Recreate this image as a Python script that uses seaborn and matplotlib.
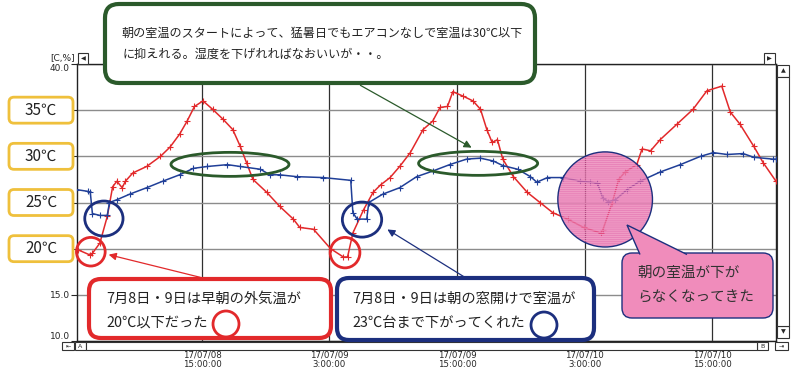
import numpy as np
import pandas as pd
import matplotlib
matplotlib.use('Agg')
import matplotlib.pyplot as plt
import matplotlib.transforms as mtransforms
from matplotlib.patches import FancyBboxPatch, Ellipse, Polygon, FancyArrowPatch, Rectangle
import seaborn as sns

# hours counted from 2017-07-08 00:00
room_hours = [3.2, 4.3, 4.5, 4.7, 5.4, 6.1, 6.3, 7.0, 8.2, 9.8,
              11.3, 12.9, 14.2, 15.5, 17.4, 18.6, 20.5, 21.4, 22.3, 23.9,
              26.4, 29.0, 29.2, 29.6, 30.5, 30.7, 32.0, 33.6, 35.2, 36.7,
              38.3, 39.9, 41.2, 42.4, 43.3, 44.7, 45.9, 46.5, 47.5, 49.0,
              50.6, 51.5, 52.2, 52.7, 53.2, 53.9, 55.0, 56.2, 58.1, 60.0,
              61.9, 63.1, 64.4, 65.9, 66.9, 68.7, 69.0]
room_temp = [26.4, 26.2, 26.1, 23.8, 23.6, 23.6, 25.0, 25.3, 25.9, 26.6,
             27.3, 28.0, 28.7, 28.9, 29.1, 28.9, 28.6, 28.0, 28.0, 27.8,
             27.7, 27.4, 23.9, 23.2, 23.2, 25.0, 25.9, 26.6, 27.8, 28.4,
             29.1, 29.7, 29.8, 29.5, 29.0, 28.6, 27.8, 27.2, 27.7, 27.7,
             27.3, 27.2, 27.1, 25.5, 25.1, 25.3, 26.4, 27.3, 28.3, 29.1,
             30.0, 30.4, 30.2, 30.3, 29.9, 29.7, 29.7]

outdoor_hours = [3.3, 4.5, 4.7, 5.4, 6.1, 6.6, 7.0, 7.5, 7.8, 8.5,
                 9.8, 11.1, 12.0, 12.9, 13.6, 14.3, 15.1, 16.0, 17.0, 17.9,
                 18.6, 19.2, 19.8, 21.1, 22.3, 23.6, 24.2, 25.5, 27.1, 28.3,
                 28.7, 29.2, 30.2, 31.1, 31.8, 32.7, 33.6, 34.6, 35.8, 36.7,
                 37.4, 38.1, 38.6, 39.6, 40.5, 41.2, 41.8, 42.3, 42.8, 43.3,
                 44.3, 45.6, 46.8, 48.0, 49.4, 50.9, 52.5, 52.7, 53.6, 54.2,
                 54.8, 55.9, 56.4, 57.2, 58.1, 59.7, 61.2, 62.5, 63.9, 64.7,
                 65.6, 66.9, 67.8, 69.0]
outdoor_temp = [19.9, 19.3, 19.5, 20.6, 23.5, 26.7, 27.3, 26.6, 27.3, 28.2,
                28.9, 30.0, 31.0, 32.4, 33.8, 35.4, 36.0, 35.1, 34.0, 32.9,
                31.1, 29.3, 27.5, 26.1, 24.6, 23.2, 22.3, 22.1, 20.0, 19.1,
                19.1, 21.7, 24.2, 26.1, 26.9, 27.7, 28.9, 30.4, 32.9, 33.8,
                35.3, 35.4, 37.0, 36.5, 36.0, 35.1, 32.9, 31.5, 31.8, 29.7,
                27.8, 26.1, 25.0, 23.9, 23.2, 22.3, 21.7, 22.0, 25.0, 27.5,
                28.3, 29.1, 30.8, 30.6, 31.8, 33.5, 35.1, 37.1, 37.6, 34.8,
                33.5, 31.1, 29.3, 27.3]

tick_hours = [15, 27, 39, 51, 63]
tick_labels = ['17/07/08\n15:00:00', '17/07/09\n3:00:00', '17/07/09\n15:00:00',
               '17/07/10\n3:00:00', '17/07/10\n15:00:00']
y_ticks = [10, 15, 20, 25, 30, 35, 40]
level_values = [35, 30, 25, 20]
level_labels = ['35℃', '30℃', '25℃', '20℃']

RED = '#e2292b'
BLUE = '#203f98'
NAVY = '#1c2f7e'
GREEN = '#2b5a2b'
GOLD = '#efc03c'
PINK = '#f08cbb'

sns.set_style('white')
plt.rcParams['font.family'] = ['Noto Sans CJK JP', 'DejaVu Sans']
plt.rcParams['hatch.linewidth'] = 0.6

W, H = 800, 372
fig = plt.figure(figsize=(W / 100, H / 100), dpi=100)
ax = fig.add_axes([77 / W, 1 - 341 / H, 699 / W, 277 / H])
# image pixel coordinates, origin at top left
px = mtransforms.Affine2D().scale(1 / 100, -1 / 100).translate(0, H / 100) + fig.dpi_scale_trans

room = pd.DataFrame({'hours': room_hours, 'temp': room_temp})
outdoor = pd.DataFrame({'hours': outdoor_hours, 'temp': outdoor_temp})

sns.lineplot(data=outdoor, x='hours', y='temp', ax=ax, color=RED, lw=1.1,
             marker='+', markersize=4, markeredgewidth=0.8, markeredgecolor=RED, zorder=3)
sns.lineplot(data=room, x='hours', y='temp', ax=ax, color=BLUE, lw=1.1,
             marker='+', markersize=4, markeredgewidth=0.8, markeredgecolor=BLUE, zorder=3)

ax.set_xlim(3.25, 69.0)
ax.set_ylim(10, 40)
ax.set_xlabel('')
ax.set_ylabel('')
ax.set_xticks(tick_hours, tick_labels)
# the 20-35 labels sit under the level boxes
ax.set_yticks(y_ticks, ['%.1f' % v if v in (10, 15, 40) else '' for v in y_ticks])
ax.tick_params(axis='x', length=0, pad=7, labelsize=6.2)
ax.tick_params(axis='y', left=True, length=4, width=0.8, pad=1, labelsize=6.5)
for lab in ax.get_xticklabels() + ax.get_yticklabels():
    lab.set_family('DejaVu Sans')
    lab.set_linespacing(1.0)
ylabs = ax.get_yticklabels()
ylabs[0].set_verticalalignment('bottom')
ylabs[-1].set_verticalalignment('top')
ax.xaxis.grid(True, color='#303030', lw=0.9)
ax.yaxis.grid(True, color='#8c8c8c', lw=1.0)
ax.set_axisbelow(True)
for s in ax.spines.values():
    s.set_color('#222222')
    s.set_linewidth(1.0)

# markings on the curves
for (cx, cy, w, h, col) in [(17.64, 29.13, 11.1, 2.6, GREEN),
                            (40.98, 29.24, 11.2, 2.6, GREEN),
                            (5.78, 23.26, 3.6, 3.8, NAVY),
                            (30.06, 23.15, 3.7, 3.8, NAVY),
                            (4.55, 19.67, 2.7, 3.1, RED),
                            (28.46, 19.57, 2.8, 3.3, RED)]:
    ax.add_patch(Ellipse((cx, cy), w, h, fill=False, ec=col, lw=2.0, zorder=5, clip_on=False))

ax.add_patch(Ellipse((52.93, 25.33), 8.9, 10.3, fc='#e0559f', ec='none', alpha=0.72, zorder=5))
ax.add_patch(Ellipse((52.93, 25.33), 8.9, 10.3, fill=False, ec='#f2a2c8', lw=0.01,
                     hatch='-' * 8, zorder=5))
ax.add_patch(Ellipse((52.93, 25.33), 8.9, 10.3, fill=False, ec=NAVY, lw=1.0, zorder=6))

# temperature level boxes on the left
for v, lab in zip(level_values, level_labels):
    yd = H - ax.transData.transform((10, v))[1]
    fig.add_artist(FancyBboxPatch((9, yd - 13), 64, 26, boxstyle='round,pad=0,rounding_size=5',
                                  transform=px, fc='white', ec=GOLD, lw=2, zorder=10))
    fig.text(41, yd, lab, transform=px, ha='center', va='center', fontsize=11, color='#222222', zorder=11)


def callout(x, y, w, h, ec, lw, fc='white', r=12):
    fig.add_artist(FancyBboxPatch((x, y), w, h, boxstyle='round,pad=0,rounding_size=%d' % r,
                                  transform=px, fc=fc, ec=ec, lw=lw, zorder=10))


def arrow(a, b, col):
    fig.add_artist(FancyArrowPatch(a, b, transform=px, arrowstyle='-|>', mutation_scale=11,
                                   color=col, lw=0.9, zorder=9))


# top comment
callout(105, 4, 430, 79, GREEN, 3, r=14)
fig.text(122, 33, '朝の室温のスタートによって、猛暑日でもエアコンなしで室温は30℃以下',
         transform=px, va='center', fontsize=8.7, color='#222222', zorder=11)
fig.text(122, 54, 'に抑えれる。湿度を下げれればなおいいが・・。',
         transform=px, va='center', fontsize=8.7, color='#222222', zorder=11)
arrow((358, 84), (474, 149), GREEN)

# outdoor comment
callout(89, 279, 242, 59, RED, 3)
fig.text(106, 299, '7月8日・9日は早朝の外気温が', transform=px, va='center',
         fontsize=10.3, color='#222222', zorder=11)
fig.text(106, 323, '20℃以下だった', transform=px, va='center',
         fontsize=10.3, color='#222222', zorder=11)
fig.add_artist(Ellipse((226, 324), 26, 26, transform=px, fill=False, ec=RED, lw=2, zorder=11))
arrow((203, 278), (106, 254), RED)

# room comment
callout(337, 278, 257, 62, NAVY, 3)
fig.text(352, 299, '7月8日・9日は朝の窓開けで室温が', transform=px, va='center',
         fontsize=10.3, color='#222222', zorder=11)
fig.text(352, 323, '23℃台まで下がってくれた', transform=px, va='center',
         fontsize=10.3, color='#222222', zorder=11)
fig.add_artist(Ellipse((544, 325), 26, 26, transform=px, fill=False, ec=NAVY, lw=2, zorder=11))
arrow((466, 278), (385, 228), NAVY)

# pink bubble
callout(622, 253, 151, 65, NAVY, 1.0, fc=PINK, r=10)
fig.add_artist(Polygon([(640, 254.5), (627, 225), (687, 254.5)], closed=False, transform=px,
                       fc=PINK, ec=NAVY, lw=1.0, zorder=10))
fig.text(637, 273, '朝の室温が下が', transform=px, va='center', fontsize=10.5, color='#333333', zorder=11)
fig.text(637, 298, 'らなくなってきた', transform=px, va='center', fontsize=10.5, color='#333333', zorder=11)

# recorder window decorations
fig.text(75, 58, '[C,%]', transform=px, ha='right', va='center', fontsize=6.5, family='DejaVu Sans')
for (bx, by, bw, bh, sym) in [(78, 53, 10, 11, '◀'), (764, 53, 11, 11, '▶'),
                              (777, 65, 12, 12, '▲'), (777, 326, 12, 12, '▼'),
                              (62, 342, 12, 8, '⇤'), (75, 342, 11, 8, 'A'),
                              (757, 342, 11, 8, 'B'), (775, 342, 13, 8, '⇥')]:
    fig.add_artist(Rectangle((bx, by), bw, bh, transform=px, fc='white', ec='#333333', lw=0.8, zorder=8))
    fig.text(bx + bw / 2, by + bh / 2, sym, transform=px, ha='center', va='center',
             fontsize=4.5, family='DejaVu Sans', zorder=9)
fig.add_artist(Rectangle((777, 77), 12, 249, transform=px, fc='white', ec='#333333', lw=0.8, zorder=8))
fig.add_artist(Rectangle((86, 342), 671, 8, transform=px, fc='white', ec='#333333', lw=0.8, zorder=8))

fig.savefig('out.png', dpi=100)
